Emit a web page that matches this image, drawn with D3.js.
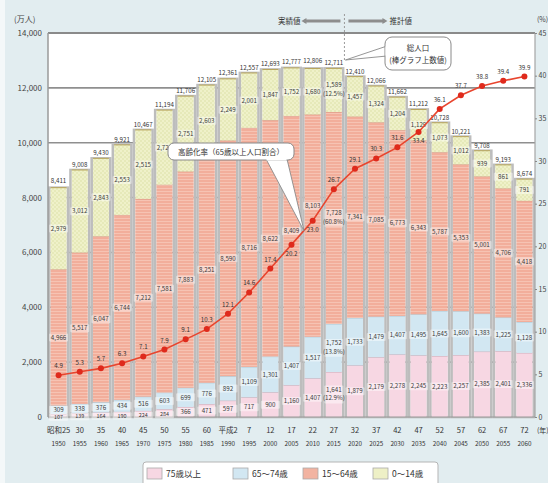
<!DOCTYPE html>
<html lang="ja">
<head>
<meta charset="utf-8">
<script src="https://cdn.jsdelivr.net/npm/d3@7"></script>
<style>
  html, body { margin: 0; padding: 0; background: #ffffff; }
  svg { display: block; }
  text { font-family: "Noto Sans CJK JP", "Noto Sans", sans-serif; }
</style>
</head>
<body>
<svg id="chart" width="548" height="483"></svg>
<script>
// 高齢化の推移と将来推計（万人・%）
const years = [1950,1955,1960,1965,1970,1975,1980,1985,1990,1995,2000,2005,2010,2015,
               2020,2025,2030,2035,2040,2045,2050,2055,2060];
const eraLabels = ["昭和25","30","35","40","45","50","55","60","平成2","7","12","17","22","27",
                   "32","37","42","47","52","57","62","67","72"];
const age75plus = [107,139,164,190,224,284,366,471,597,717,900,1160,1407,1641,
                   1879,2179,2278,2245,2223,2257,2385,2401,2336];
const age65to74 = [309,338,376,434,516,603,699,776,892,1109,1301,1407,1517,1752,
                   1733,1479,1407,1495,1645,1600,1383,1225,1128];
const age15to64 = [4966,5517,6047,6744,7212,7581,7883,8251,8590,8716,8622,8409,8103,7728,
                   7341,7085,6773,6343,5787,5353,5001,4706,4418];
const age0to14  = [2979,3012,2843,2553,2515,2722,2751,2603,2249,2001,1847,1752,1680,1589,
                   1457,1324,1204,1129,1073,1012,939,861,791];
const totals    = [8411,9008,9430,9921,10467,11194,11706,12105,12361,12557,12693,12777,12806,12711,
                   12410,12066,11662,11212,10728,10221,9708,9193,8674];
const agingRate = [4.9,5.3,5.7,6.3,7.1,7.9,9.1,10.3,12.1,14.6,17.4,20.2,23.0,26.7,
                   29.1,30.3,31.6,33.4,36.1,37.7,38.8,39.4,39.9];
const popTicks  = [0,2000,4000,6000,8000,10000,12000,14000];
const rateTicks = [0,5,10,15,20,25,30,35,40,45];
const seriesKeys   = ["a75", "a65", "a15", "a0"];
const seriesNames  = ["75歳以上", "65～74歳", "15～64歳", "0～14歳"];
const highlightYear = 2015;

const svg = d3.select("#chart");
const W = 548, H = 483;
const plot = { left: 48, right: 535, top: 33, bottom: 417 };

// background
svg.append("rect").attr("width", W).attr("height", H).attr("fill", "#e2edf0");
svg.append("rect").attr("width", 5).attr("height", H).attr("fill", "#f4f8f9");
svg.append("rect").attr("x", plot.left).attr("y", plot.top)
  .attr("width", plot.right - plot.left).attr("height", plot.bottom - plot.top)
  .attr("fill", "#ffffff");

// patterns
const defs = svg.append("defs");
const pSal = defs.append("pattern").attr("id", "pSal").attr("patternUnits", "userSpaceOnUse")
  .attr("width", 4).attr("height", 3);
pSal.append("rect").attr("width", 4).attr("height", 3).attr("fill", "#f2ae9b");
pSal.append("rect").attr("y", 2).attr("width", 4).attr("height", 1).attr("fill", "#f6c3b3");
const pYel = defs.append("pattern").attr("id", "pYel").attr("patternUnits", "userSpaceOnUse")
  .attr("width", 4).attr("height", 4);
pYel.append("rect").attr("width", 4).attr("height", 4).attr("fill", "#eff1c9");
pYel.append("circle").attr("cx", 1).attr("cy", 1).attr("r", 0.7).attr("fill", "#d8dc9c");
pYel.append("circle").attr("cx", 3).attr("cy", 3).attr("r", 0.7).attr("fill", "#d8dc9c");

const fills = { a75: "#f7d7e3", a65: "#d2e7f2", a15: "url(#pSal)", a0: "url(#pYel)" };
const swatch = { a75: "#f7d7e3", a65: "#d2e7f2", a15: "#f2b3a1", a0: "#eef0c6" };
const edge = { a75: "#c9a9b5", a65: "#a9c2cf", a15: "#d59a86", a0: "#b8a45a" };

// scales
const x = d3.scaleBand().domain(years).range([plot.left, plot.right]).paddingInner(0).paddingOuter(0);
const yPop = d3.scaleLinear().domain([0, 14000]).range([plot.bottom, plot.top]);
const yRate = d3.scaleLinear().domain([0, 45]).range([plot.bottom, plot.top]);
const barW = x.step() * 0.875;
const cx = d => x(d) + x.bandwidth() / 2;

// gridlines
svg.append("g").selectAll("line").data(popTicks.filter(t => t > 0)).join("line")
  .attr("x1", plot.left).attr("x2", plot.right)
  .attr("y1", d => yPop(d)).attr("y2", d => yPop(d))
  .attr("stroke", "#8f8f8f").attr("stroke-width", 1.6);

// stacked data
const rows = years.map((yr, i) => ({
  year: yr, a75: age75plus[i], a65: age65to74[i], a15: age15to64[i], a0: age0to14[i]
}));
const stacked = d3.stack().keys(seriesKeys)(rows);

// bar outlines (gray frame around each bar)
svg.append("g").selectAll("rect").data(rows).join("rect")
  .attr("x", d => cx(d.year) - barW / 2)
  .attr("y", d => yPop(d.a75 + d.a65 + d.a15 + d.a0))
  .attr("width", barW)
  .attr("height", d => yPop(0) - yPop(d.a75 + d.a65 + d.a15 + d.a0))
  .attr("fill", "none").attr("stroke", "#bdbdbd").attr("stroke-width", 2.6);

// segments
const segG = svg.append("g");
stacked.forEach(layer => {
  segG.append("g").selectAll("rect").data(layer).join("rect")
    .attr("x", d => cx(d.data.year) - barW / 2 + 1.3)
    .attr("y", d => yPop(d[1]))
    .attr("width", barW - 2.6)
    .attr("height", d => yPop(d[0]) - yPop(d[1]))
    .attr("fill", fills[layer.key]);
  segG.append("g").selectAll("line").data(layer).join("line")
    .attr("x1", d => cx(d.data.year) - barW / 2 + 1.3)
    .attr("x2", d => cx(d.data.year) + barW / 2 - 1.3)
    .attr("y1", d => yPop(d[1])).attr("y2", d => yPop(d[1]))
    .attr("stroke", edge[layer.key]).attr("stroke-width", 1);
});

// plot frame
svg.append("line").attr("x1", plot.left).attr("x2", plot.right)
  .attr("y1", plot.top).attr("y2", plot.top).attr("stroke", "#8a8a8a").attr("stroke-width", 1.8);
svg.append("line").attr("x1", plot.left).attr("x2", plot.left)
  .attr("y1", plot.top).attr("y2", plot.bottom).attr("stroke", "#9a9a9a").attr("stroke-width", 1.5);
svg.append("line").attr("x1", plot.right).attr("x2", plot.right)
  .attr("y1", plot.top).attr("y2", plot.bottom).attr("stroke", "#a5a5a5").attr("stroke-width", 1.2);
svg.append("line").attr("x1", plot.left).attr("x2", plot.right)
  .attr("y1", plot.bottom).attr("y2", plot.bottom).attr("stroke", "#9a9a9a").attr("stroke-width", 1.2);

// left axis
const leftAxis = d3.axisLeft(yPop).tickValues(popTicks)
  .tickFormat(d3.format(",")).tickSize(0).tickPadding(6);
const gL = svg.append("g").attr("transform", `translate(${plot.left},0)`).call(leftAxis);
gL.select(".domain").remove();
gL.selectAll("text").attr("font-size", 8).attr("fill", "#444")
  .style("font-family", "'Noto Sans CJK JP', sans-serif");
svg.append("text").attr("x", 14).attr("y", 22).attr("font-size", 8).attr("fill", "#444").text("(万人)");

// right axis
const rightAxis = d3.axisRight(yRate).tickValues(rateTicks).tickSize(2).tickPadding(1.5);
const gR = svg.append("g").attr("transform", `translate(${plot.right},0)`).call(rightAxis);
gR.select(".domain").remove();
gR.selectAll("line").attr("stroke", "#888");
gR.selectAll("text").attr("font-size", 7).attr("fill", "#444")
  .style("font-family", "'Noto Sans CJK JP', sans-serif");
svg.append("text").attr("x", 537).attr("y", 22).attr("font-size", 7).attr("fill", "#444").text("(%)");

// rate value at each bar, used to keep segment labels clear of the line
const lineY = i => yRate(agingRate[i]);

// segment value labels
const fmt = d3.format(",");
const labG = svg.append("g").attr("fill", "#3a3a3a").attr("text-anchor", "middle");
function segLabelY(layer, i) {
  const d = layer[i];
  const segH = yPop(d[0]) - yPop(d[1]);
  let yc = (yPop(d[0]) + yPop(d[1])) / 2;
  if (segH < 8) yc += layer.key === "a75" ? 1.5 : -1.5;
  if (layer.key === "a15" && Math.abs(yc - lineY(i)) < 8) yc = lineY(i) - 15;
  return yc;
}
stacked.forEach(layer => {
  layer.forEach((d, i) => {
    const v = d.data[layer.key];
    const segH = yPop(d[0]) - yPop(d[1]);
    const yc = segLabelY(layer, i);
    const xc = cx(d.data.year);
    const lines = [fmt(v)];
    if (d.data.year === highlightYear) {
      lines.push("(" + (v / totals[i] * 100).toFixed(1) + "%)");
    }
    const fs = segH < 8 ? 5.4 : 6.2;
    const step = lines.length > 1 ? fs + 2.2 : fs + 0.8;
    const hBox = lines.length * step + 1;
    labG.append("rect").attr("x", xc - 9.5).attr("y", yc - hBox / 2)
      .attr("width", 19).attr("height", hBox).attr("rx", 1)
      .attr("fill", "#ffffff").attr("opacity", 0.45);
    lines.forEach((t, k) => {
      labG.append("text").attr("x", xc).attr("font-size", fs)
        .attr("y", yc - hBox / 2 + fs + k * step)
        .text(t);
    });
  });
});

// total labels above bars
svg.append("g").selectAll("text").data(years).join("text")
  .attr("x", d => cx(d)).attr("y", (d, i) => yPop(totals[i]) - 3)
  .attr("text-anchor", "middle").attr("font-size", 6.2).attr("fill", "#333")
  .text((d, i) => fmt(totals[i]));

// aging-rate line
const line = d3.line().x((d, i) => cx(years[i])).y(d => yRate(d));
svg.append("path").datum(agingRate).attr("d", line)
  .attr("fill", "none").attr("stroke", "#e8452e").attr("stroke-width", 1.6);
svg.append("g").selectAll("circle").data(agingRate).join("circle")
  .attr("cx", (d, i) => cx(years[i])).attr("cy", d => yRate(d)).attr("r", 3)
  .attr("fill", "#df2a1c");

// rate labels sit above the point unless another label is already there
function labelBelow(i) {
  const py = lineY(i);
  return stacked.some(layer => {
    const d = layer[i];
    const segH = yPop(d[0]) - yPop(d[1]);
    const yc = segLabelY(layer, i);
    return segH >= 8 && (py - 9) - yc < 9 && (py - 9) - yc > -6;
  });
}
svg.append("g").selectAll("text").data(agingRate).join("text")
  .attr("x", (d, i) => cx(years[i]))
  .attr("y", (d, i) => yRate(d) + (labelBelow(i) ? 11 : -7))
  .attr("text-anchor", "middle").attr("font-size", 6.2).attr("fill", "#333")
  .text(d => d.toFixed(1));

// x axis labels
const xG = svg.append("g").attr("text-anchor", "middle").attr("fill", "#333");
xG.selectAll("text.era").data(years).join("text").attr("class", "era")
  .attr("x", d => cx(d)).attr("y", 433).attr("font-size", 7.5)
  .text((d, i) => eraLabels[i]);
xG.selectAll("text.yr").data(years).join("text").attr("class", "yr")
  .attr("x", d => cx(d)).attr("y", 446).attr("font-size", 6.3)
  .text(d => d);
svg.append("text").attr("x", 537).attr("y", 433).attr("font-size", 7).attr("fill", "#333").text("(年)");

// actual / projected divider
const divX = (cx(2015) + cx(2020)) / 2;
svg.append("line").attr("x1", divX).attr("x2", divX).attr("y1", 14).attr("y2", 62)
  .attr("stroke", "#9a9a9a").attr("stroke-width", 1).attr("stroke-dasharray", "2,2");
svg.append("text").attr("x", divX - 44).attr("y", 24).attr("font-size", 7.5)
  .attr("text-anchor", "end").attr("fill", "#333").text("実績値");
svg.append("text").attr("x", divX + 45).attr("y", 24).attr("font-size", 7.5)
  .attr("fill", "#333").text("推計値");
svg.append("line").attr("x1", divX - 40).attr("x2", divX - 4).attr("y1", 21).attr("y2", 21)
  .attr("stroke", "#8d8d8d").attr("stroke-width", 3);
svg.append("path").attr("d", `M${divX - 43},21 L${divX - 38},18 L${divX - 38},24 Z`).attr("fill", "#8d8d8d");
svg.append("line").attr("x1", divX + 4).attr("x2", divX + 40).attr("y1", 21).attr("y2", 21)
  .attr("stroke", "#8d8d8d").attr("stroke-width", 3);
svg.append("path").attr("d", `M${divX + 43},21 L${divX + 38},18 L${divX + 38},24 Z`).attr("fill", "#8d8d8d");

// callout: total population
const c1 = svg.append("g");
c1.append("path").attr("d", `M387,46 L${divX + 1},60 L387,56 Z`)
  .attr("fill", "#ffffff").attr("stroke", "#8a8a8a").attr("stroke-width", 0.9);
c1.append("rect").attr("x", 385).attr("y", 37).attr("width", 66).attr("height", 33).attr("rx", 7)
  .attr("fill", "#ffffff").attr("stroke", "#8a8a8a").attr("stroke-width", 1);
c1.append("rect").attr("x", 385.5).attr("y", 46.5).attr("width", 2).attr("height", 9).attr("fill", "#ffffff");
c1.append("text").attr("x", 418).attr("y", 51).attr("text-anchor", "middle")
  .attr("font-size", 7.5).attr("fill", "#333").text("総人口");
c1.append("text").attr("x", 418).attr("y", 63).attr("text-anchor", "middle")
  .attr("font-size", 7.5).attr("fill", "#333").text("(棒グラフ上数値)");

// callout: aging rate
const c2 = svg.append("g");
const tipX = (cx(2005) + cx(2010)) / 2 + 2, tipY = yRate(21.8);
c2.append("path").attr("d", `M266,159 L${tipX},${tipY} L287,159 Z`)
  .attr("fill", "#ffffff").attr("stroke", "#8a8a8a").attr("stroke-width", 0.9);
c2.append("rect").attr("x", 168).attr("y", 143).attr("width", 126).attr("height", 17).attr("rx", 6)
  .attr("fill", "#ffffff").attr("stroke", "#8a8a8a").attr("stroke-width", 1);
c2.append("rect").attr("x", 266.5).attr("y", 158.5).attr("width", 20).attr("height", 2).attr("fill", "#ffffff");
c2.append("text").attr("x", 231).attr("y", 154.5).attr("text-anchor", "middle")
  .attr("font-size", 7.5).attr("fill", "#333").text("高齢化率（65歳以上人口割合）");

// legend
const lg = svg.append("g");
lg.append("rect").attr("x", 143).attr("y", 462).attr("width", 295).attr("height", 26).attr("rx", 3)
  .attr("fill", "#ffffff").attr("stroke", "#b5b5b5").attr("stroke-width", 1);
const legendX = [147, 233, 303, 373];
seriesKeys.forEach((k, i) => {
  lg.append("rect").attr("x", legendX[i]).attr("y", 468).attr("width", 15).attr("height", 11)
    .attr("fill", swatch[k]).attr("stroke", "#aaa").attr("stroke-width", 0.8);
  lg.append("text").attr("x", legendX[i] + 19).attr("y", 477).attr("font-size", 8.5)
    .attr("fill", "#333").text(seriesNames[i]);
});
</script>
</body>
</html>
